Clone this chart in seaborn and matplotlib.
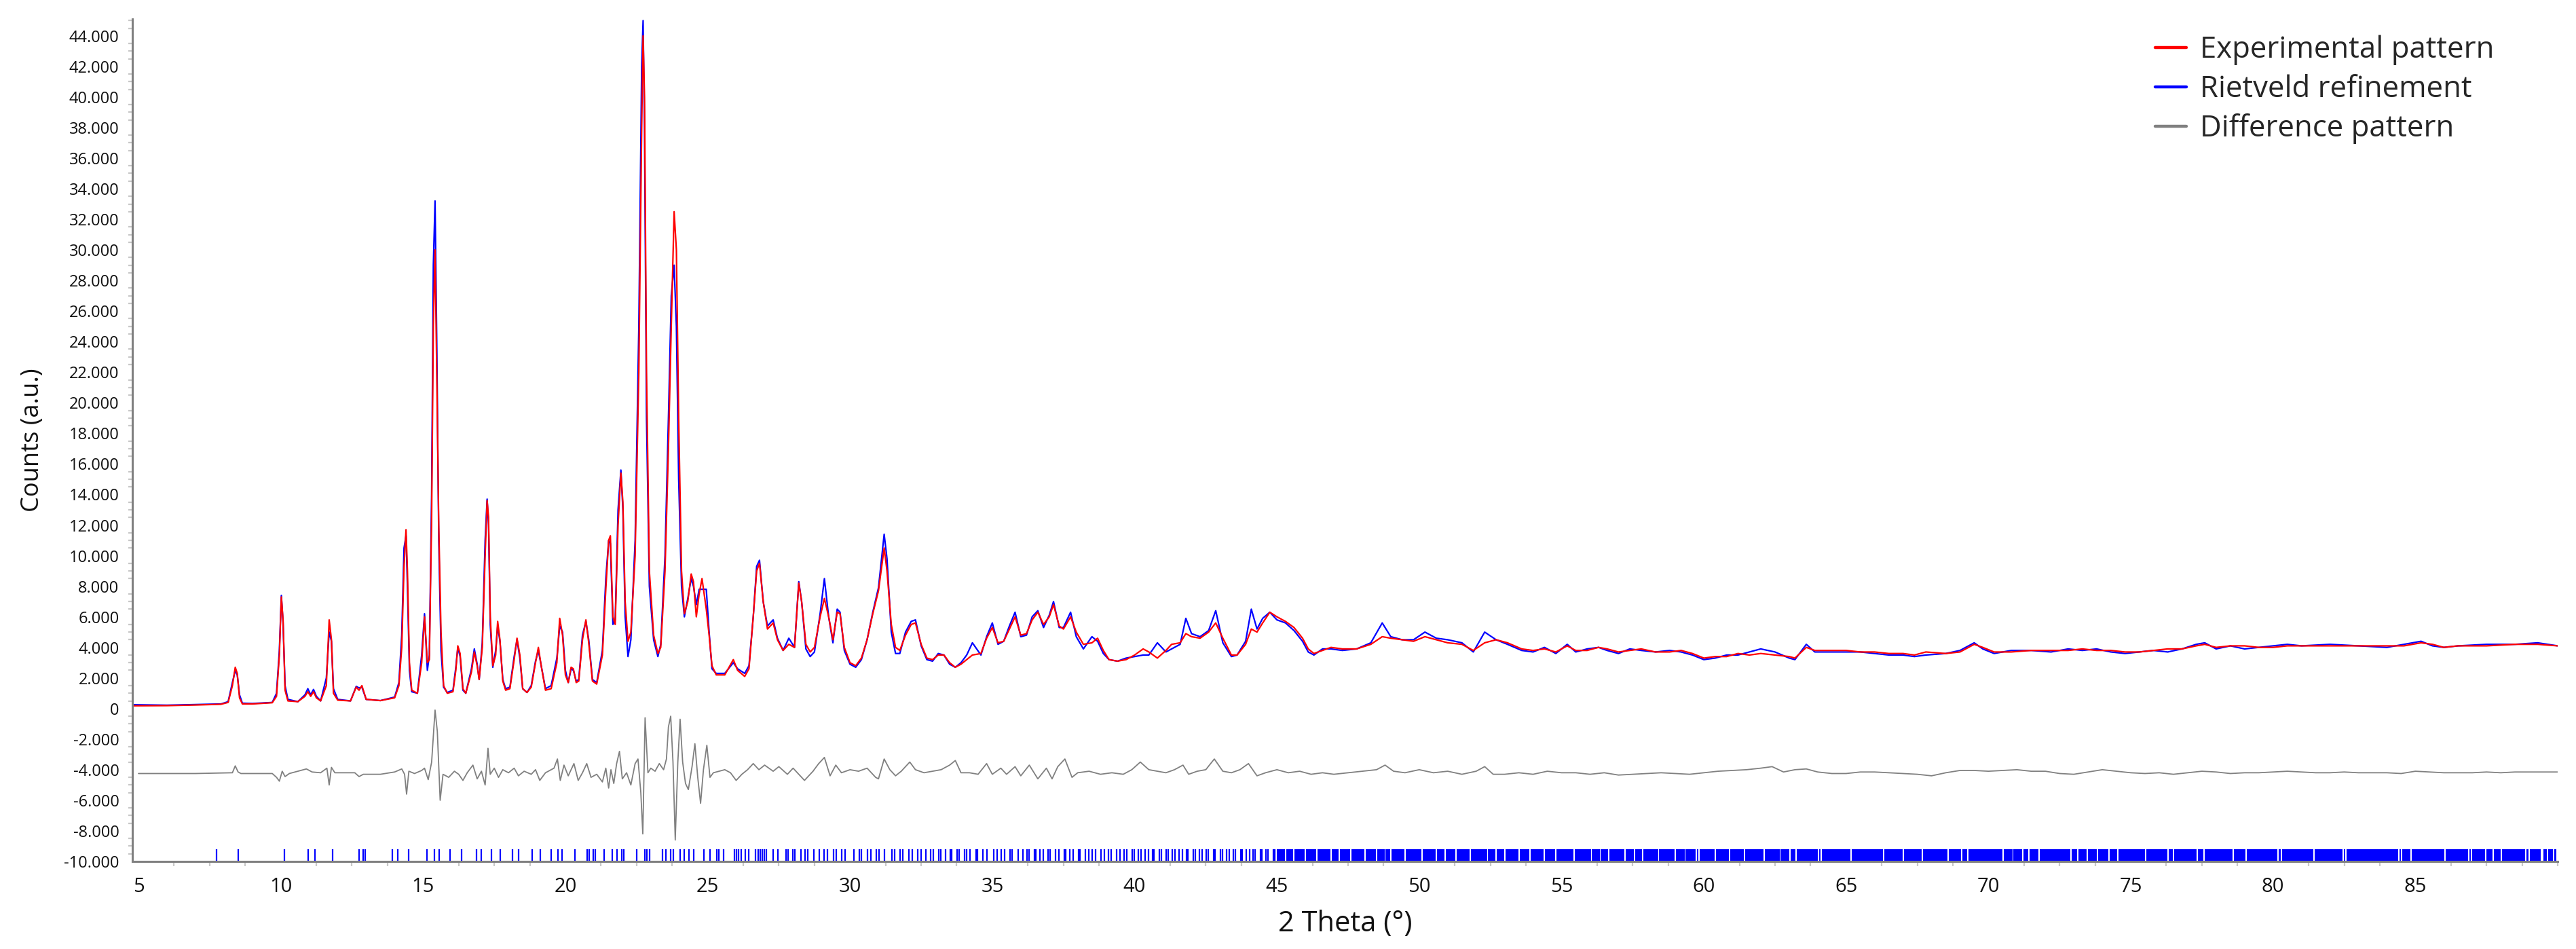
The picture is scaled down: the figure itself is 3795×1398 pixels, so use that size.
import numpy as np
import pandas as pd
import matplotlib
matplotlib.use("Agg")
import matplotlib.pyplot as plt
import seaborn as sns
from matplotlib.ticker import MultipleLocator, FuncFormatter
from matplotlib.lines import Line2D

# ---------------- data ----------------
exp_2theta = [4.8, 6.0, 7.0, 7.9, 8.15, 8.3, 8.4, 8.47, 8.55, 8.65, 9.0, 9.7, 9.85, 9.95, 10.02, 10.08, 10.15, 10.25, 10.6,
              10.85, 10.95, 11.05, 11.15, 11.25, 11.4, 11.6, 11.7, 11.78, 11.85, 12.0, 12.45, 12.65, 12.75, 12.85, 13.0, 13.5,
              14.0, 14.15, 14.25, 14.33, 14.4, 14.45, 14.52, 14.6, 14.8, 14.95, 15.05, 15.15, 15.22, 15.3, 15.36, 15.42, 15.48,
              15.55, 15.63, 15.72, 15.85, 16.05, 16.15, 16.22, 16.3, 16.4, 16.5, 16.7, 16.8, 16.9, 16.97, 17.08, 17.18, 17.25,
              17.3, 17.36, 17.45, 17.55, 17.62, 17.7, 17.8, 17.9, 18.05, 18.2, 18.3, 18.4, 18.5, 18.65, 18.8, 18.95, 19.05,
              19.15, 19.3, 19.5, 19.7, 19.8, 19.9, 20.0, 20.1, 20.2, 20.28, 20.38, 20.47, 20.6, 20.72, 20.82, 20.95, 21.1, 21.3,
              21.42, 21.52, 21.58, 21.67, 21.75, 21.85, 21.95, 22.02, 22.1, 22.2, 22.3, 22.45, 22.58, 22.68, 22.73, 22.78, 22.85,
              22.95, 23.1, 23.25, 23.35, 23.5, 23.62, 23.72, 23.82, 23.9, 23.98, 24.08, 24.18, 24.3, 24.42, 24.5, 24.6, 24.7,
              24.8, 24.95, 25.05, 25.15, 25.3, 25.6, 25.9, 26.05, 26.3, 26.45, 26.6, 26.72, 26.82, 26.95, 27.1, 27.3, 27.45,
              27.65, 27.85, 28.05, 28.2, 28.3, 28.45, 28.6, 28.75, 28.95, 29.1, 29.25, 29.4, 29.55, 29.65, 29.8, 30.0, 30.2,
              30.4, 30.6, 30.8, 31.0, 31.2, 31.3, 31.45, 31.6, 31.75, 31.95, 32.15, 32.3, 32.5, 32.7, 32.9, 33.1, 33.3, 33.5,
              33.7, 33.9, 34.1, 34.3, 34.6, 34.8, 35.0, 35.2, 35.4, 35.6, 35.8, 36.0, 36.2, 36.4, 36.6, 36.8, 37.0, 37.15,
              37.35, 37.5, 37.75, 37.95, 38.2, 38.5, 38.7, 38.9, 39.1, 39.4, 39.7, 40.0, 40.3, 40.5, 40.8, 41.1, 41.3, 41.6,
              41.8, 42.0, 42.3, 42.6, 42.85, 43.1, 43.4, 43.6, 43.9, 44.1, 44.3, 44.5, 44.75, 45.0, 45.3, 45.6, 45.9, 46.1,
              46.3, 46.6, 46.9, 47.3, 47.8, 48.3, 48.7, 49.0, 49.4, 49.8, 50.2, 50.6, 51.0, 51.5, 51.9, 52.3, 52.7, 53.1, 53.6,
              54.0, 54.4, 54.8, 55.2, 55.5, 55.9, 56.3, 56.6, 57.0, 57.4, 57.8, 58.3, 58.8, 59.2, 59.6, 60.0, 60.4, 60.8, 61.2,
              61.6, 62.0, 62.5, 63.0, 63.2, 63.6, 63.9, 64.5, 65.0, 65.5, 66.0, 66.5, 67.0, 67.4, 67.8, 68.5, 69.0, 69.5, 69.8,
              70.2, 70.8, 71.5, 72.2, 72.8, 73.3, 73.8, 74.3, 74.8, 75.3, 75.8, 76.3, 76.8, 77.3, 77.6, 78.0, 78.5, 79.0, 79.5,
              80.0, 80.5, 81.0, 82.0, 83.0, 84.0, 84.6, 85.2, 85.6, 86.0, 86.5, 87.5, 88.5, 89.3, 90.0]
exp_counts = [180, 190, 230, 280, 400, 1500, 2700, 2300, 700, 300, 300, 380, 800, 3500, 7300, 5800, 1200, 500, 450,
              800, 1100, 800, 1100, 700, 500, 1500, 5800, 4500, 1000, 550, 500, 1400, 1200, 1500, 600, 520,
              700, 1500, 4000, 9300, 11700, 9000, 3000, 1200, 1000, 3000, 6000, 3000, 3200, 12500, 25000, 30000, 22000,
              12000, 5000, 1500, 1000, 1100, 2500, 4100, 3600, 1300, 1000, 2400, 3700, 2800, 1900, 4000, 10000, 13600,
              12500, 6000, 2800, 3500, 5700, 4500, 1800, 1200, 1300, 3200, 4600, 3500, 1300, 1050, 1400, 3000, 4000,
              2800, 1200, 1300, 3000, 5900, 4800, 2200, 1700, 2700, 2600, 1700, 1800, 4500, 5800, 4300, 1800, 1600, 3500,
              7800, 11000, 11300, 6000, 5500, 12000, 15400, 13500, 7000, 4400, 5000, 10000, 22000, 38000, 44000, 40000, 22000,
              9000, 4800, 3600, 4000, 9000, 17000, 25000, 32500, 30000, 19000, 9000, 6200, 7000, 8800, 8300, 6000, 7500,
              8500, 6500, 4800, 2800, 2200, 2200, 3200, 2500, 2100, 2600, 6000, 9000, 9500, 7000, 5200, 5600, 4500,
              3800, 4200, 4000, 8200, 7000, 4200, 3700, 4000, 6000, 7200, 6000, 4500, 6300, 6200, 4000, 3000, 2800,
              3300, 4500, 6200, 7700, 10500, 9000, 5500, 4000, 3800, 4800, 5500, 5600, 4200, 3300, 3200, 3500, 3500, 3000,
              2700, 2900, 3200, 3500, 3600, 4600, 5300, 4300, 4400, 5200, 6000, 4800, 4900, 5800, 6300, 5500, 6000, 6800,
              5400, 5200, 6000, 5000, 4200, 4300, 4600, 3800, 3200, 3100, 3200, 3500, 3900, 3700, 3300, 3800, 4200, 4300,
              4900, 4700, 4600, 5000, 5600, 4600, 3500, 3500, 4200, 5200, 5000, 5600, 6300, 6000, 5700, 5300, 4600, 3900,
              3600, 3800, 4000, 3900, 3900, 4200, 4700, 4600, 4500, 4400, 4700, 4500, 4300, 4200, 3800, 4300, 4500, 4300, 3900,
              3800, 3900, 3700, 4100, 3800, 3800, 4000, 3900, 3700, 3800, 3900, 3700, 3700, 3800, 3600, 3300, 3400, 3400, 3600,
              3500, 3600, 3500, 3400, 3300, 4000, 3800, 3800, 3800, 3700, 3700, 3600, 3600, 3500, 3700, 3600, 3700, 4200, 4000,
              3700, 3700, 3800, 3800, 3800, 3900, 3800, 3800, 3700, 3700, 3800, 3900, 3900, 4100, 4200, 4000, 4100, 4100, 4000,
              4000, 4100, 4100, 4100, 4100, 4100, 4100, 4300, 4200, 4000, 4100, 4100, 4200, 4200, 4100]

calc_2theta = exp_2theta
calc_counts = [250, 220, 260, 300, 450, 1700, 2500, 2200, 900, 350, 330, 400, 1000, 3800, 7400, 5600, 1500, 600, 450,
               900, 1300, 900, 1250, 800, 500, 2000, 5000, 4400, 1300, 600, 500, 1450, 1350, 1400, 600, 520,
               750, 1700, 4800, 10500, 11300, 8000, 2500, 1100, 1000, 3500, 6200, 2500, 3500, 14000, 29000, 33200, 24000,
               11000, 3800, 1400, 1050, 1200, 2700, 4000, 3400, 1200, 1000, 2600, 3900, 2900, 1900, 4300, 11000, 13700,
               12000, 5500, 2700, 3800, 5400, 4400, 1900, 1300, 1400, 3400, 4500, 3300, 1300, 1050, 1500, 3100, 3800,
               2800, 1300, 1500, 3300, 5400, 5000, 2500, 1700, 2600, 2500, 1800, 1900, 4800, 5700, 4500, 1900, 1700, 3800,
               8500, 11000, 10800, 5500, 5800, 13000, 15600, 13000, 6000, 3400, 4500, 11000, 25000, 42000, 45000, 38000, 19000,
               8000, 4500, 3400, 4200, 10000, 19000, 27000, 29000, 25000, 15000, 8000, 6000, 7200, 8500, 8000, 6800, 7800,
               7800, 7800, 5000, 2600, 2300, 2300, 3000, 2600, 2300, 2800, 6000, 9300, 9700, 7000, 5400, 5800, 4600,
               3800, 4600, 4000, 8300, 7000, 3900, 3400, 3700, 6200, 8500, 6000, 4300, 6500, 6300, 3800, 2900, 2700,
               3200, 4500, 6300, 7900, 11400, 9800, 5000, 3600, 3600, 5000, 5700, 5800, 4100, 3200, 3100, 3600, 3500, 2900,
               2700, 3000, 3500, 4300, 3500, 4700, 5600, 4200, 4400, 5400, 6300, 4700, 4800, 6000, 6400, 5300, 6100, 7000,
               5300, 5300, 6300, 4700, 3900, 4700, 4400, 3600, 3200, 3100, 3300, 3400, 3500, 3500, 4300, 3700, 3900, 4200,
               5900, 4900, 4700, 5100, 6400, 4300, 3400, 3500, 4400, 6500, 5200, 5900, 6300, 5800, 5600, 5100, 4400, 3700,
               3500, 3900, 3900, 3800, 3900, 4300, 5600, 4700, 4500, 4500, 5000, 4600, 4500, 4300, 3700, 5000, 4500, 4200, 3800,
               3700, 4000, 3600, 4200, 3700, 3900, 4000, 3800, 3600, 3900, 3800, 3700, 3800, 3700, 3500, 3200, 3300, 3500, 3500,
               3700, 3900, 3700, 3300, 3200, 4200, 3700, 3700, 3700, 3700, 3600, 3500, 3500, 3400, 3500, 3600, 3800, 4300, 3900,
               3600, 3800, 3800, 3700, 3900, 3800, 3900, 3700, 3600, 3700, 3800, 3700, 3900, 4200, 4300, 3900, 4100, 3900, 4000,
               4100, 4200, 4100, 4200, 4100, 4000, 4200, 4400, 4100, 4000, 4100, 4200, 4200, 4300, 4100]

diff_2theta = [5.0, 7.0, 8.3, 8.4, 8.5, 8.6, 9.7, 9.85, 9.95, 10.05, 10.15, 10.3, 10.9, 11.1, 11.4, 11.62, 11.7, 11.78,
               11.9, 12.6, 12.75, 12.9, 13.5, 14.0, 14.25, 14.35, 14.42, 14.5, 14.7, 14.95, 15.05, 15.18, 15.3, 15.42, 15.5,
               15.6, 15.7, 15.9, 16.1, 16.25, 16.4, 16.55, 16.75, 16.9, 17.05, 17.18, 17.28, 17.36, 17.5, 17.65, 17.8, 18.0,
               18.2, 18.35, 18.55, 18.8, 18.95, 19.1, 19.3, 19.6, 19.72, 19.82, 19.95, 20.1, 20.3, 20.45, 20.6, 20.75, 20.9,
               21.1, 21.3, 21.42, 21.52, 21.6, 21.7, 21.8, 21.9, 22.0, 22.15, 22.3, 22.45, 22.55, 22.65, 22.72, 22.8, 22.9,
               23.0, 23.15, 23.3, 23.45, 23.55, 23.62, 23.7, 23.78, 23.86, 23.95, 24.03, 24.12, 24.22, 24.32, 24.45, 24.55,
               24.65, 24.75, 24.85, 24.97, 25.08, 25.2, 25.4, 25.6, 25.8, 26.0, 26.2, 26.4, 26.6, 26.8, 27.0, 27.3, 27.5,
               27.8, 28.0, 28.2, 28.4, 28.7, 28.9, 29.1, 29.3, 29.5, 29.7, 30.0, 30.3, 30.6, 30.9, 31.0, 31.2, 31.4, 31.6,
               31.8, 32.1, 32.3, 32.6, 32.9, 33.2, 33.5, 33.7, 33.9, 34.2, 34.5, 34.8, 35.0, 35.3, 35.5, 35.8, 36.0, 36.3,
               36.6, 36.9, 37.1, 37.3, 37.55, 37.8, 38.0, 38.4, 38.8, 39.2, 39.6, 39.9, 40.2, 40.5, 40.8, 41.1, 41.4, 41.7,
               41.9, 42.2, 42.5, 42.8, 43.1, 43.4, 43.7, 44.0, 44.3, 44.6, 45.0, 45.4, 45.8, 46.2, 46.6, 47.0, 47.5, 48.0,
               48.5, 48.8, 49.1, 49.5, 50.0, 50.5, 51.0, 51.5, 52.0, 52.3, 52.6, 53.0, 53.5, 54.0, 54.5, 55.0, 55.5, 56.0,
               56.5, 57.0, 57.5, 58.0, 58.5, 59.0, 59.5, 60.0, 60.5, 61.0, 61.5, 62.0, 62.4, 62.8, 63.2, 63.6, 64.0, 64.5,
               65.0, 65.5, 66.0, 66.5, 67.0, 67.5, 68.0, 68.5, 69.0, 69.5, 70.0, 70.5, 71.0, 71.5, 72.0, 72.5, 73.0, 73.5,
               74.0, 74.5, 75.0, 75.5, 76.0, 76.5, 77.0, 77.5, 78.0, 78.5, 79.0, 79.5, 80.0, 80.5, 81.0, 81.5, 82.0, 82.5,
               83.0, 83.5, 84.0, 84.5, 85.0, 85.5, 86.0, 86.5, 87.0, 87.5, 88.0, 88.5, 89.0, 90.0]
diff_counts = [-4250, -4250, -4200, -3750, -4150, -4250, -4250, -4500, -4750, -4100, -4450, -4250, -3950, -4150, -4200,
               -3900, -5000, -3850, -4200, -4200, -4450, -4300, -4300, -4150, -3950, -4300, -5600, -4100, -4250, -4050,
               -3900, -4650, -3500, -100, -1500, -6000, -4300, -4500, -4100, -4300, -4700, -4200, -3700, -4600, -4100,
               -5000, -2600, -4300, -3900, -4500, -4000, -4200, -3900, -4400, -4100, -4300, -4000, -4700, -4200, -3900,
               -3300, -4700, -3700, -4400, -3600, -4700, -4200, -3600, -4500, -4300, -4800, -3900, -5200, -4000, -4900,
               -3600, -2800, -4600, -4200, -5000, -3600, -3300, -5500, -8200, -600, -4200, -3900, -4100, -3600, -4000,
               -3300, -1200, -500, -3500, -8600, -3500, -700, -3500, -4900, -5300, -3800, -2300, -4500, -6200, -4000,
               -2400, -4500, -4200, -4100, -4000, -4200, -4700, -4300, -4000, -3600, -4000, -3700, -4100, -3800, -4300,
               -3900, -4300, -4700, -4100, -3600, -3200, -4400, -3700, -4200, -4000, -4100, -3900, -4500, -4600, -3300,
               -4000, -4400, -4100, -3500, -4000, -4200, -4100, -4000, -3700, -3400, -4200, -4200, -4300, -3600, -4300,
               -3900, -4300, -3800, -4400, -3700, -4600, -3900, -4600, -3800, -3300, -4500, -4200, -4100, -4300, -4200,
               -4300, -4000, -3500, -4000, -4100, -4200, -4000, -3700, -4300, -4100, -4000, -3300, -4100, -4200, -4000,
               -3600, -4400, -4200, -4000, -4200, -4100, -4300, -4200, -4300, -4200, -4100, -4000, -3700, -4100, -4200,
               -4000, -4200, -4100, -4300, -4100, -3800, -4300, -4300, -4200, -4300, -4100, -4200, -4200, -4300, -4200,
               -4350, -4300, -4250, -4200, -4250, -4300, -4200, -4100, -4050, -4000, -3900, -3800, -4150, -4000, -3950,
               -4150, -4250, -4250, -4150, -4150, -4200, -4250, -4300, -4400, -4200, -4050, -4050, -4100, -4050, -4000,
               -4100, -4100, -4250, -4300, -4150, -4000, -4100, -4200, -4250, -4200, -4300, -4200, -4100, -4150, -4250,
               -4200, -4200, -4150, -4100, -4150, -4200, -4200, -4150, -4200, -4200, -4200, -4250, -4100, -4150, -4200,
               -4200, -4200, -4150, -4200, -4150, -4150, -4150]

# Bragg reflection positions (individual ticks)
bragg_positions = [7.74, 8.5, 10.12, 10.96, 11.19, 11.82, 12.75, 12.9, 12.96, 13.92, 14.12, 14.48, 15.14, 15.4, 15.56,
                   15.94, 16.35, 16.88, 17.04, 17.39, 17.72, 18.15, 18.36, 18.83, 19.12, 19.5, 19.74, 19.89, 20.33,
                   20.76, 20.84, 20.99, 21.06, 21.37, 21.64, 21.82, 21.98, 22.05, 22.51, 22.78, 22.86, 22.96, 23.42,
                   23.54, 23.69, 23.8, 24.03, 24.18, 24.34, 24.5, 24.86, 25.09, 25.32, 25.4, 25.55, 25.93, 26.0, 26.08,
                   26.19, 26.31, 26.44, 26.69, 26.77, 26.84, 26.92, 26.99, 27.07, 27.3, 27.46, 27.76, 27.83, 27.98,
                   28.06, 28.27, 28.41, 28.52, 28.74, 28.93, 29.08, 29.21, 29.43, 29.52, 29.71, 29.83, 30.14, 30.33,
                   30.41, 30.62, 30.74, 30.93, 31.02, 31.21, 31.47, 31.58, 31.77, 31.86, 32.07, 32.18, 32.37, 32.49,
                   32.66, 32.83, 32.92, 33.11, 33.18, 33.36, 33.52, 33.58, 33.77, 33.84, 34.02, 34.09, 34.21, 34.42,
                   34.48, 34.67, 34.81, 35.06, 35.18, 35.31, 35.44, 35.62, 35.69, 35.91, 36.08, 36.21, 36.29, 36.47,
                   36.53, 36.67, 36.79, 36.96, 37.04, 37.22, 37.33, 37.52, 37.58, 37.71, 37.83, 38.02, 38.09, 38.27,
                   38.38, 38.52, 38.63, 38.81, 38.94, 39.07, 39.18, 39.37, 39.48, 39.62, 39.73, 39.92, 39.99, 40.12,
                   40.23, 40.36, 40.48, 40.62, 40.69, 40.87, 40.93, 41.12, 41.18, 41.32, 41.43, 41.57, 41.68, 41.82,
                   41.88, 42.07, 42.13, 42.27, 42.38, 42.52, 42.58, 42.77, 42.83, 43.02, 43.08, 43.22, 43.33, 43.47,
                   43.53, 43.72, 43.78, 43.92, 44.03, 44.17, 44.23, 44.42, 44.48, 44.62, 44.68, 44.87, 44.93]
# Dense Bragg band (45-90 deg): solid with thin white gaps at these positions
bragg_band_range = [45.0, 89.95]
bragg_gaps = [45.3, 45.6, 46.0, 46.4, 46.9, 47.2, 47.6, 48.1, 48.5, 48.8, 49.0, 49.5, 50.1, 50.6, 50.9, 51.3, 51.8,
              52.4, 52.7, 53.0, 53.5, 53.9, 54.4, 54.8, 55.45, 56.05, 56.36, 56.66, 57.23, 57.57, 57.86, 58.41, 59.0,
              59.34, 59.73, 59.84, 60.41, 60.91, 61.43, 62.11, 62.68, 63.02, 63.25, 64.02, 64.12, 65.18, 66.32, 67.0,
              67.68, 68.59, 69.05, 69.27, 70.52, 70.86, 71.2, 71.43, 71.77, 72.91, 73.14, 73.48, 73.82, 74.23, 74.55,
              75.52, 76.32, 76.5, 77.34, 77.57, 78.59, 79.05, 80.18, 80.3, 81.43, 82.47, 82.56, 84.42, 84.52, 84.85,
              86.04, 86.88, 86.97, 87.47, 87.74, 88.02, 88.88, 89.0, 89.43, 89.48, 89.64, 89.86]

series_labels = ["Experimental pattern", "Rietveld refinement", "Difference pattern"]
series_colors = ["#ff0000", "#0000ff", "#808080"]

# ---------------- figure ----------------
sns.set_theme(style="white")
plt.rcParams['font.family'] = ['Open Sans', 'DejaVu Sans']

W, H = 3795, 1398
fig = plt.figure(figsize=(W / 100, H / 100), dpi=100)
ax = fig.add_axes([195 / W, 1 - 1269 / H, (3768 - 195) / W, (1269 - 28) / H])

df_exp = pd.DataFrame({"two_theta": exp_2theta, "counts": exp_counts})
df_calc = pd.DataFrame({"two_theta": calc_2theta, "counts": calc_counts})
df_diff = pd.DataFrame({"two_theta": diff_2theta, "counts": diff_counts})

sns.lineplot(data=df_calc, x="two_theta", y="counts", color=series_colors[1], lw=1.6,
             sort=False, estimator=None, ax=ax, legend=False)
sns.lineplot(data=df_exp, x="two_theta", y="counts", color=series_colors[0], lw=1.6,
             sort=False, estimator=None, ax=ax, legend=False)
sns.lineplot(data=df_diff, x="two_theta", y="counts", color=series_colors[2], lw=1.3,
             sort=False, estimator=None, ax=ax, legend=False)

# Bragg ticks
tick_bottom, tick_h = -10000, 780
ax.vlines(bragg_positions, tick_bottom, tick_bottom + tick_h, color="#0000ff", lw=1.6)
gw = 0.045
segs = []
prev = bragg_band_range[0]
for g in bragg_gaps:
    segs.append((prev, g - gw / 2 - prev))
    prev = g + gw / 2
segs.append((prev, bragg_band_range[1] - prev))
ax.broken_barh(segs, (tick_bottom, tick_h), facecolor="#0000ff", edgecolor="none")

ax.set_xlim(4.785, 90)
ax.set_ylim(-10000, 45100)

ax.xaxis.set_major_locator(MultipleLocator(5))
ax.xaxis.set_minor_locator(MultipleLocator(1.25))
ax.yaxis.set_major_locator(MultipleLocator(2000))
ax.yaxis.set_minor_locator(MultipleLocator(500))
ax.yaxis.set_major_formatter(FuncFormatter(lambda v, p: f"{int(round(v)):,}".replace(",", ".")))
ax.set_xticks([v for v in range(5, 90, 5)])

for s in ["top", "right"]:
    ax.spines[s].set_visible(False)
for s in ["left", "bottom"]:
    ax.spines[s].set_color("#808080")
    ax.spines[s].set_linewidth(2.2)

ax.tick_params(axis="y", which="major", direction="out", length=6, width=1.6, color="#808080",
               labelsize=17, pad=8, labelcolor="#111111")
ax.tick_params(axis="y", which="minor", direction="out", length=4, width=1.6, color="#c8c8c8", left=True)
ax.tick_params(axis="x", which="major", direction="out", length=7.5, width=1.6, color="#808080",
               labelsize=21, pad=9, labelcolor="#111111")
ax.tick_params(axis="x", which="minor", direction="out", length=5, width=1.6, color="#c8c8c8", bottom=True)

ax.set_xlabel("2 Theta (°)", fontsize=30, labelpad=14, color="#111111")
ax.set_ylabel("Counts (a.u.)", fontsize=26, labelpad=20, color="#111111")

handles = [Line2D([0], [0], color=c, lw=3.2) for c in series_colors]
fig.legend(handles, series_labels, loc="upper left", bbox_to_anchor=(3175 / W, 1 - 52 / H),
           frameon=False, fontsize=31.5, handlelength=1.05, handletextpad=0.45, labelspacing=0.3,
           borderpad=0, borderaxespad=0)

fig.savefig("out.png", dpi=100, facecolor="white")
